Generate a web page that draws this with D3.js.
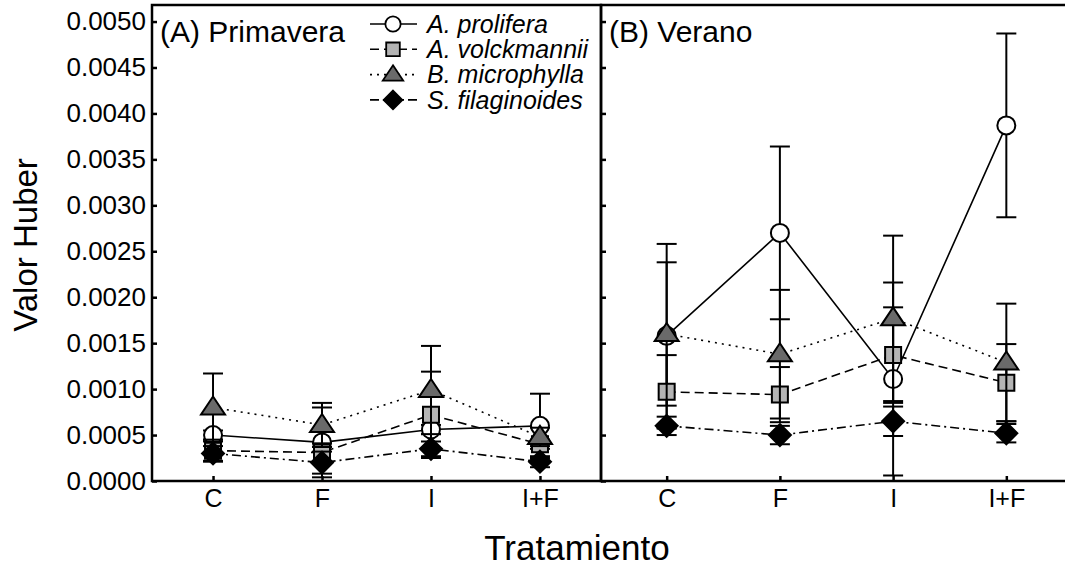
<!DOCTYPE html>
<html>
<head>
<meta charset="utf-8">
<script src="https://cdn.jsdelivr.net/npm/d3@7"></script>
<style>
  body { margin: 0; background: #fff; }
  text { font-family: "Liberation Sans", Arial, sans-serif; fill: #000; }
</style>
</head>
<body>
<div id="chart"></div>
<script>

////////////////////// data ////////////////////////////////////////////
var treatments = ["C", "F", "I", "I+F"];
var species = ["A. prolifera", "A. volckmannii", "B. microphylla", "S. filaginoides"];
var yTicks = [0, 0.0005, 0.0010, 0.0015, 0.0020, 0.0025, 0.0030, 0.0035, 0.0040, 0.0045, 0.0050];

// (A) Primavera : mean and error per treatment
var primProlifera      = [0.00050, 0.00042, 0.00056, 0.00060];
var primProliferaErr   = [0.00005, 0.00038, 0.00005, 0.00035];
var primVolckmannii    = [0.00033, 0.00031, 0.00072, 0.00040];
var primVolckmanniiErr = [0.00012, 0.00010, 0.00047, 0.00005];
var primMicrophylla    = [0.00080, 0.00061, 0.00099, 0.00048];
var primMicrophyllaErr = [0.00037, 0.00024, 0.00048, 0.00010];
var primFilaginoides   = [0.00030, 0.00020, 0.00035, 0.00021];
var primFilaginoidesErr= [0.00008, 0.00012, 0.00008, 0.00006];

// (B) Verano
var verProlifera       = [0.00158, 0.00270, 0.00111, 0.00387];
var verProliferaErr    = [0.00100, 0.00094, 0.00105, 0.00100];
var verVolckmannii     = [0.00097, 0.00094, 0.00137, 0.00107];
var verVolckmanniiErr  = [0.00040, 0.00030, 0.00052, 0.00042];
var verMicrophylla     = [0.00160, 0.00138, 0.00177, 0.00129];
var verMicrophyllaErr  = [0.00078, 0.00070, 0.00090, 0.00064];
var verFilaginoides    = [0.00060, 0.00050, 0.00065, 0.00052];
var verFilaginoidesErr = [0.00010, 0.00010, 0.00016, 0.00010];

////////////////////// styles per species //////////////////////////////
var shapes = ["circle", "square", "triangle", "diamond"];
var fills = ["#ffffff", "#b4b4b4", "#6a6a6a", "#000000"];
var dashes = [null, "9,5", "2,5", "9,4,2,4"];

function markerPath(shape, k) {
  var p = d3.path();
  if (shape == "circle") {
    p.moveTo(9 * k, 0); p.arc(0, 0, 9 * k, 0, 2 * Math.PI);
  } else if (shape == "square") {
    p.rect(-8 * k, -8 * k, 16 * k, 16 * k);
  } else if (shape == "triangle") {
    p.moveTo(0, -11 * k); p.lineTo(12 * k, 7 * k); p.lineTo(-12 * k, 7 * k); p.closePath();
  } else {
    p.moveTo(0, -11 * k); p.lineTo(11 * k, 0); p.lineTo(0, 11 * k); p.lineTo(-11 * k, 0); p.closePath();
  }
  return p.toString();
}

function buildSeries(means, errs) {
  return species.map(function (s, i) {
    return {
      key: s, idx: i,
      values: treatments.map(function (t, j) { return { t: t, v: means[i][j], e: errs[i][j] }; })
    };
  });
}

var panels = [
  { label: "(A) Primavera", x0: 152, x1: 601, pad: 0.56, legend: true,
    series: buildSeries([primProlifera, primVolckmannii, primMicrophylla, primFilaginoides],
                        [primProliferaErr, primVolckmanniiErr, primMicrophyllaErr, primFilaginoidesErr]) },
  { label: "(B) Verano", x0: 601, x1: 1072, pad: 0.58, legend: false,
    series: buildSeries([verProlifera, verVolckmannii, verMicrophylla, verFilaginoides],
                        [verProliferaErr, verVolckmanniiErr, verMicrophyllaErr, verFilaginoidesErr]) }
];

////////////////////// svg ///////////////////////////////////////////////
var width = 1065, height = 568;
var plotTop = 5, plotBottom = 481;

var svg = d3.select("#chart")
  .append("svg")
  .attr("width", width)
  .attr("height", height);

var yScale = d3.scaleLinear()
  .domain([0, 0.00518])
  .range([plotBottom, plotTop]);

panels.forEach(function (panel, pi) {
  var xScale = d3.scalePoint()
    .domain(treatments)
    .range([panel.x0, panel.x1])
    .padding(panel.pad);

  var g = svg.append("g").attr("class", "panel");

  // y axis (ticks inward)
  var yAxis = d3.axisLeft(yScale)
    .tickValues(yTicks)
    .tickSize(-5)
    .tickPadding(6)
    .tickFormat(pi == 0 ? d3.format(".4f") : "");
  var ya = g.append("g")
    .attr("transform", "translate(" + panel.x0 + ",0)")
    .call(yAxis);
  ya.select(".domain").remove();
  ya.selectAll("line").attr("stroke-width", 2.5);
  ya.selectAll("text").attr("font-size", 26);

  // x axis (ticks inward)
  var xAxis = d3.axisBottom(xScale).tickSize(-5).tickPadding(8);
  var xa = g.append("g")
    .attr("transform", "translate(0," + plotBottom + ")")
    .call(xAxis);
  xa.select(".domain").remove();
  xa.selectAll("line").attr("stroke-width", 2.5);
  xa.selectAll("text").attr("font-size", 25);

  // frame
  g.append("rect")
    .attr("x", panel.x0)
    .attr("y", plotTop)
    .attr("width", panel.x1 - panel.x0)
    .attr("height", plotBottom - plotTop)
    .attr("fill", "none")
    .attr("stroke", "#000")
    .attr("stroke-width", 2.5);

  g.append("text")
    .attr("x", panel.x0 + 8)
    .attr("y", 42)
    .attr("font-size", 30)
    .text(panel.label);

  var line = d3.line()
    .x(function (d) { return xScale(d.t); })
    .y(function (d) { return yScale(d.v); });

  var item = g.selectAll(".item")
    .data(panel.series)
    .enter().append("g")
    .attr("class", "item");

  item.append("path")
    .attr("d", function (d) { return line(d.values); })
    .attr("fill", "none")
    .attr("stroke", "#000")
    .attr("stroke-width", 1.6)
    .attr("stroke-dasharray", function (d) { return dashes[d.idx]; });

  // error bars
  var bars = item.selectAll(".err")
    .data(function (d) { return d.values; })
    .enter().append("g")
    .attr("class", "err");

  bars.append("line")
    .attr("x1", function (d) { return xScale(d.t); })
    .attr("x2", function (d) { return xScale(d.t); })
    .attr("y1", function (d) { return yScale(d.v - d.e); })
    .attr("y2", function (d) { return yScale(d.v + d.e); })
    .attr("stroke", "#000").attr("stroke-width", 2);

  [-1, 1].forEach(function (sgn) {
    bars.append("line")
      .attr("x1", function (d) { return xScale(d.t) - 10; })
      .attr("x2", function (d) { return xScale(d.t) + 10; })
      .attr("y1", function (d) { return yScale(d.v + sgn * d.e); })
      .attr("y2", function (d) { return yScale(d.v + sgn * d.e); })
      .attr("stroke", "#000").attr("stroke-width", 2);
  });

  // markers
  item.selectAll(".mark")
    .data(function (d) { return d.values.map(function (v) { return { t: v.t, v: v.v, idx: d.idx }; }); })
    .enter().append("path")
    .attr("class", "mark")
    .attr("transform", function (d) { return "translate(" + xScale(d.t) + "," + yScale(d.v) + ")"; })
    .attr("d", function (d) { return markerPath(shapes[d.idx], 1); })
    .attr("fill", function (d) { return fills[d.idx]; })
    .attr("stroke", "#000")
    .attr("stroke-width", 2);

  ///////////////////// legend //////////////////////////////
  if (panel.legend) {
    var leg = g.selectAll(".legendItem")
      .data(species)
      .enter().append("g")
      .attr("class", "legendItem")
      .attr("transform", function (d, i) { return "translate(393," + (24 + i * 25.3) + ")"; });

    leg.append("line")
      .attr("x1", -23).attr("x2", 24)
      .attr("stroke", "#000")
      .attr("stroke-width", 1.6)
      .attr("stroke-dasharray", function (d, i) { return dashes[i]; });

    leg.append("path")
      .attr("d", function (d, i) { return markerPath(shapes[i], 0.85); })
      .attr("fill", function (d, i) { return fills[i]; })
      .attr("stroke", "#000")
      .attr("stroke-width", 1.8);

    leg.append("text")
      .attr("x", 34)
      .attr("dy", "0.35em")
      .attr("font-size", 25)
      .attr("font-style", "italic")
      .text(function (d) { return d; });
  }
});

///////////////////// axis titles //////////////////////////////
svg.append("text")
  .attr("transform", "translate(37,245) rotate(-90)")
  .attr("text-anchor", "middle")
  .attr("font-size", 33)
  .text("Valor Huber");

svg.append("text")
  .attr("x", 577)
  .attr("y", 560)
  .attr("text-anchor", "middle")
  .attr("font-size", 35)
  .text("Tratamiento");

</script>
</body>
</html>
